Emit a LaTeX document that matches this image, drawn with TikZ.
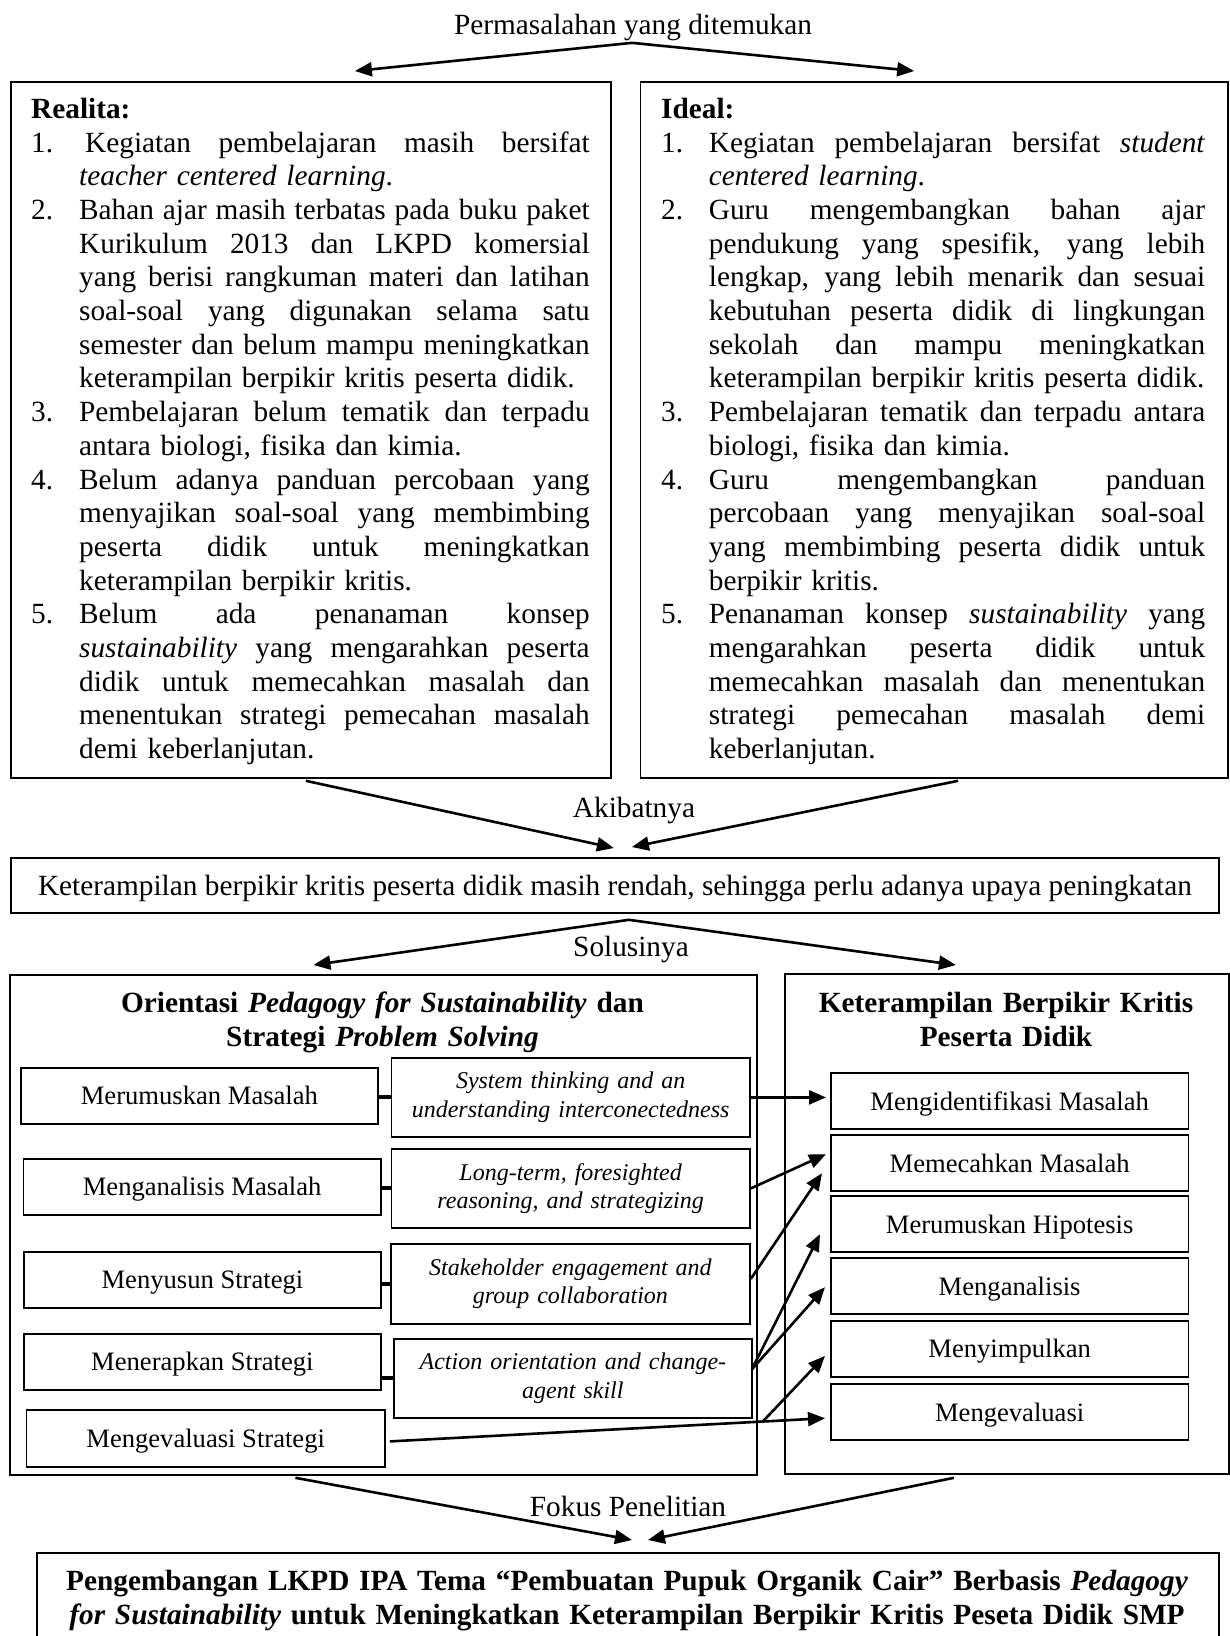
\documentclass[tikz,border=0pt]{standalone}
\usepackage{fontspec}
\setmainfont{Liberation Serif}
\usetikzlibrary{arrows.meta,calc}
\setlength{\parindent}{0pt}
\newcommand{\bodyfont}{\fontsize{29.3pt}{33.7pt}\selectfont}
\newcommand{\boxfont}{\fontsize{26.6pt}{30.6pt}\selectfont}
\newcommand{\itfont}{\fontsize{24pt}{28.5pt}\selectfont\itshape}
% justified line of given width
\newcommand{\JLine}[2]{\makebox[#1][s]{\spaceskip=0.25em plus 1fil\xspaceskip=0.25em plus 1fil\relax #2}}
% Realita box lines
\newcommand{\ReaN}[2]{\makebox[48pt][l]{#1}\JLine{510.5pt}{#2}}
\newcommand{\ReaC}[1]{\hspace*{48pt}\JLine{510.5pt}{#1}}
\newcommand{\ReaE}[1]{\hspace*{48pt}#1}
% Ideal box lines
\newcommand{\IdeN}[2]{\makebox[47.7pt][l]{#1}\JLine{496.3pt}{#2}}
\newcommand{\IdeC}[1]{\hspace*{47.7pt}\JLine{496.3pt}{#1}}
\newcommand{\IdeE}[1]{\hspace*{47.7pt}#1}
\tikzset{
  bx/.style={draw, line width=1.8pt, rectangle, inner sep=0pt, anchor=north west},
  bxt/.style={bx, font=\boxfont, text height=17.6pt, text depth=0pt},
  ibx/.style={bx, font=\itfont, align=center, text width=340pt},
  arr/.style={line width=2.6pt, -{Triangle[length=17pt,width=14pt]}},
  stub/.style={line width=4pt},
  lbl/.style={inner sep=0pt, font=\bodyfont, text height=19.3pt, text depth=0pt},
  hdr/.style={inner sep=0pt, font=\bodyfont\bfseries, align=center},
  txt/.style={inner sep=0pt, font=\bodyfont},
}
\begin{document}
\begin{tikzpicture}[x=1pt,y=-1pt]
\useasboundingbox (0,0) rectangle (1230,1636);

% ---------- top ----------
\node[lbl] (perm) at (633,25) {Permasalahan yang ditemukan};
\node[bx, minimum width=600pt, minimum height=696pt] (realita) at (10,81) {};
\node[bx, minimum width=587.5pt, minimum height=696pt] (ideal) at (639.5,81) {};

\node[txt, text width=560pt, anchor=base west] (realitatext) at (31,118.3) {%
{\bfseries Realita:}\\
\makebox[54pt][l]{1.}\JLine{504.5pt}{Kegiatan pembelajaran masih bersifat}\\
\ReaE{\textit{teacher centered learning}.}\\
\ReaN{2.}{Bahan ajar masih terbatas pada buku paket}\\
\ReaC{Kurikulum 2013 dan LKPD komersial}\\
\ReaC{yang berisi rangkuman materi dan latihan}\\
\ReaC{soal-soal yang digunakan selama satu}\\
\ReaC{semester dan belum mampu meningkatkan}\\
\ReaE{keterampilan berpikir kritis peserta didik.}\\
\ReaN{3.}{Pembelajaran belum tematik dan terpadu}\\
\ReaE{antara biologi, fisika dan kimia.}\\
\ReaN{4.}{Belum adanya panduan percobaan yang}\\
\ReaC{menyajikan soal-soal yang membimbing}\\
\ReaC{peserta didik untuk meningkatkan}\\
\ReaE{keterampilan berpikir kritis.}\\
\ReaN{5.}{Belum ada penanaman konsep}\\
\ReaC{\textit{sustainability} yang mengarahkan peserta}\\
\ReaC{didik untuk memecahkan masalah dan}\\
\ReaC{menentukan strategi pemecahan masalah}\\
\ReaE{demi keberlanjutan.}};

\node[txt, text width=546pt, anchor=base west] (idealtext) at (661,118.3) {%
{\bfseries Ideal:}\\
\IdeN{1.}{Kegiatan pembelajaran bersifat \textit{student}}\\
\IdeE{\textit{centered learning}.}\\
\IdeN{2.}{Guru mengembangkan bahan ajar}\\
\IdeC{pendukung yang spesifik, yang lebih}\\
\IdeC{lengkap, yang lebih menarik dan sesuai}\\
\IdeC{kebutuhan peserta didik di lingkungan}\\
\IdeC{sekolah dan mampu meningkatkan}\\
\IdeE{keterampilan berpikir kritis peserta didik.}\\
\IdeN{3.}{Pembelajaran tematik dan terpadu antara}\\
\IdeE{biologi, fisika dan kimia.}\\
\IdeN{4.}{Guru mengembangkan panduan}\\
\IdeC{percobaan yang menyajikan soal-soal}\\
\IdeC{yang membimbing peserta didik untuk}\\
\IdeE{berpikir kritis.}\\
\IdeN{5.}{Penanaman konsep \textit{sustainability} yang}\\
\IdeC{mengarahkan peserta didik untuk}\\
\IdeC{memecahkan masalah dan menentukan}\\
\IdeC{strategi pemecahan masalah demi}\\
\IdeE{keberlanjutan.}};

\coordinate (apexA) at ($(perm.south)+(-1,8)$);
\draw[arr] (apexA) -- ($(realita.north)+(44,-10)$);
\draw[arr] (apexA) -- ($(ideal.north)+(-20,-10)$);

% ---------- middle ----------
\node[lbl] (akib) at (634,808) {Akibatnya};
\node[bx, font=\bodyfont, text height=19.3pt, text depth=0pt, minimum width=1208pt, minimum height=55pt] (kps) at (10,857)
  {Keterampilan berpikir kritis peserta didik masih rendah, sehingga perlu adanya upaya peningkatan};
\draw[arr] ($(realita.south)+(-5,2)$) -- ($(kps.north)+(-1,-9)$);
\draw[arr] ($(ideal.south)+(24,2)$) -- ($(kps.north)+(17,-10)$);

\node[lbl] (solu) at (631,947) {Solusinya};
\node[bx, minimum width=747pt, minimum height=500pt] (lbig) at (9,974) {};
\node[bx, minimum width=444pt, minimum height=500pt] (rbig) at (784,973) {};
\coordinate (apexB) at ($(kps.south)+(14,6)$);
\draw[arr] (apexB) -- ($(lbig.north)+(-70,-9)$);
\draw[arr] (apexB) -- ($(rbig.north)+(-51,-8)$);

\node[hdr, text width=740pt, anchor=base] (lhead) at (382.5,1012.7)
  {Orientasi \textit{Pedagogy for Sustainability} dan\\Strategi \textit{Problem Solving}};
\node[hdr, text width=440pt, anchor=base] (rhead) at (1006,1012.7)
  {Keterampilan Berpikir Kritis\\Peserta Didik};

% left column
\node[bxt, minimum width=357pt, minimum height=56pt] (merumuskan) at (20,1067) {Merumuskan Masalah};
\node[bxt, minimum width=357.5pt, minimum height=56pt] (menganal) at (22.5,1158) {Menganalisis Masalah};
\node[bxt, minimum width=357pt, minimum height=56pt] (menyusun) at (23,1251) {Menyusun Strategi};
\node[bxt, minimum width=357pt, minimum height=56pt] (menerapkan) at (23,1333) {Menerapkan Strategi};
\node[bxt, minimum width=358.5pt, minimum height=57pt] (mengevs) at (25.5,1409) {Mengevaluasi Strategi};

% italic column
\node[ibx, minimum width=358.5pt, minimum height=79pt] (system) at (390.5,1057)
  {System thinking and an\\understanding interconectedness};
\node[ibx, minimum width=358.5pt, minimum height=79pt] (longterm) at (390.5,1148)
  {Long-term, foresighted\\reasoning, and strategizing};
\node[ibx, minimum width=359pt, minimum height=80pt] (stake) at (390,1243)
  {Stakeholder engagement and\\group collaboration};
\node[ibx, minimum width=358pt, minimum height=79pt] (action) at (393,1338)
  {Action orientation and change-\\agent skill};

\draw[stub] (merumuskan.east |- system.west) -- (system.west);
\draw[stub] (menganal.east |- longterm.west) -- (longterm.west);
\draw[stub] (menyusun.east |- stake.west) -- (stake.west);
\draw[stub] (menerapkan.east |- action.west) -- (action.west);

% right column
\node[bxt, minimum width=357.5pt, minimum height=56pt] (mengid) at (830,1072.3) {Mengidentifikasi Masalah};
\node[bxt, minimum width=357.5pt, minimum height=56pt] (memecah) at (830,1134.3) {Memecahkan Masalah};
\node[bxt, minimum width=357.5pt, minimum height=56pt] (hipo) at (830,1195.3) {Merumuskan Hipotesis};
\node[bxt, minimum width=357.5pt, minimum height=56pt] (menganalisis) at (830,1257.3) {Menganalisis};
\node[bxt, minimum width=357.5pt, minimum height=56pt] (menyimp) at (830,1320) {Menyimpulkan};
\node[bxt, minimum width=357.5pt, minimum height=56pt] (mengev) at (830,1383.3) {Mengevaluasi};

% connectors between columns
\draw[arr, shorten >=4pt] (system.east) -- (system.east -| mengid.west);
\draw[arr] (longterm.east) -- ($(memecah.west)+(-4,-9)$);
\draw[arr] ($(stake.east)+(0,-5)$) -- ($(memecah.west)+(-8,10)$);
\coordinate (actout) at ($(action.east)+(-1,-9)$);
\draw[arr] (actout) -- ($(hipo.west)+(-10,10)$);
\draw[arr] (actout) -- ($(menganalisis.west)+(-5,1)$);
\coordinate (evA) at ($(mengevs.east)+(4,3)$);
\coordinate (evB) at ($(mengev.west)+(-5,6)$);
\coordinate (evbranch) at ($(evA)!0.857!(evB)$);
\draw[arr] (evA) -- (evB);
\draw[arr] (evbranch) -- ($(menyimp.west)+(-5,7)$);

% ---------- bottom ----------
\node[lbl] (fokus) at (628,1507) {Fokus Penelitian};
\node[bx, minimum width=1182pt, minimum height=95pt] (focusbox) at (36,1552) {};
\node[hdr, text width=1170pt, anchor=base] (focustext) at (627,1590.7)
  {Pengembangan LKPD IPA Tema “Pembuatan Pupuk Organik Cair” Berbasis \textit{Pedagogy}\\
   \textit{for Sustainability} untuk Meningkatkan Keterampilan Berpikir Kritis Peseta Didik SMP};
\draw[arr] ($(lbig.south)+(-88,2)$) -- ($(focusbox.north)+(4,-12)$);
\draw[arr] ($(rbig.south)+(-53,3)$) -- ($(focusbox.north)+(20,-12)$);
\end{tikzpicture}
\end{document}
